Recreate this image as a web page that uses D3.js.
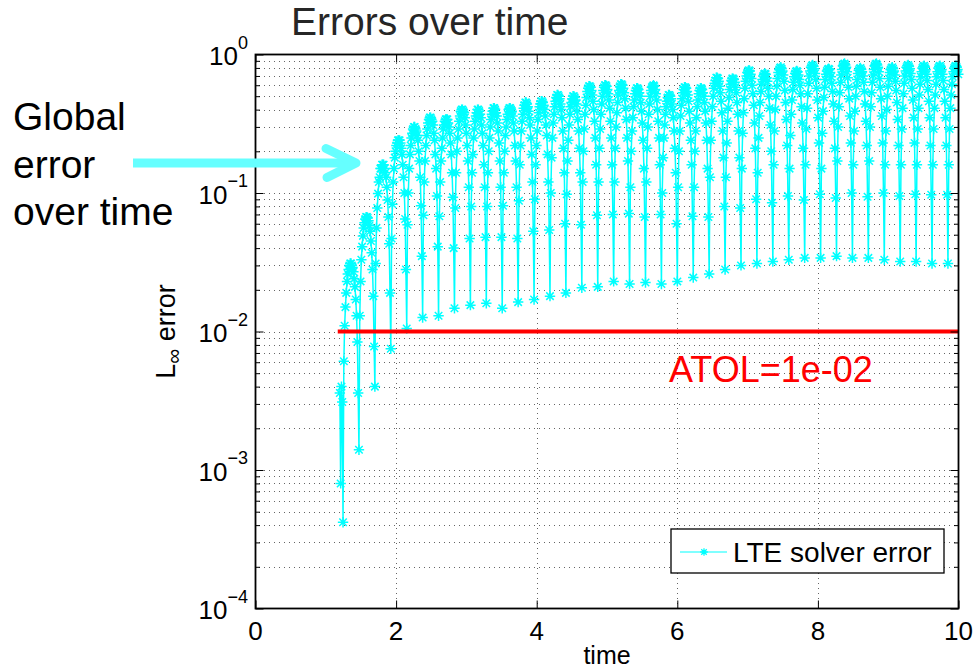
<!DOCTYPE html>
<html>
<head>
<meta charset="utf-8">
<script src="https://cdn.jsdelivr.net/npm/d3@7"></script>
<style>
  body { margin: 0; background: #fff; }
  text { font-family: "Liberation Sans", Arial, Helvetica, sans-serif; }
</style>
</head>
<body>
<svg id="chart" width="974" height="671"></svg>
<script>
// ---- data -------------------------------------------------------------
const xTicks = [0, 2, 4, 6, 8, 10];
const yTickExponents = [0, -1, -2, -3, -4];
const gridMultipliers = [2, 3, 4, 5, 6, 7, 8, 9];

// solver output: uniform time grid
const tStart = 1.2;
const tStep = 0.011322;

// first few steps before the first full oscillation
const leadIn = [0.0036, 0.0008, 0.0040, 0.0031];

// L-infinity error, one row per oscillation (trough first, crest mid-row)
const bumpValues = [
[.00042,.0061,.011,.015,.019,.023,.026,.028,.030,.031,.031,.030,.029,.027,.024,.021,.017,.013,.0084,.0036],
[.0014,.013,.023,.033,.041,.049,.056,.061,.065,.067,.067,.066,.063,.058,.053,.045,.037,.028,.018,.0078],
[.004,.031,.056,.078,.099,.12,.13,.15,.15,.16,.16,.16,.15,.14,.13,.11,.089,.067,.043,.019],
[.0075,.047,.083,.12,.15,.18,.20,.22,.23,.24,.24,.24,.23,.21,.19,.16,.13,.10,.065,.028],
[.0105,.059,.10,.15,.19,.22,.25,.27,.29,.30,.30,.29,.28,.26,.24,.20,.17,.13,.081,.035],
[.0126,.069,.12,.17,.22,.26,.29,.32,.34,.35,.35,.34,.33,.31,.27,.24,.19,.15,.095,.041],
[.013,.068,.12,.17,.21,.25,.29,.31,.33,.34,.34,.34,.32,.30,.27,.23,.19,.14,.093,.040],
[.0147,.078,.14,.20,.25,.29,.33,.36,.39,.40,.40,.39,.38,.35,.31,.27,.22,.17,.11,.047],
[.0155,.080,.14,.19,.25,.29,.33,.36,.38,.40,.40,.39,.37,.35,.31,.27,.22,.16,.11,.048],
[.016,.080,.14,.20,.25,.30,.34,.37,.39,.41,.41,.40,.38,.36,.32,.28,.23,.17,.11,.048],
[.0147,.081,.14,.20,.26,.30,.34,.37,.40,.41,.41,.40,.39,.36,.32,.28,.22,.17,.11,.047],
[.0163,.088,.16,.22,.28,.33,.37,.41,.43,.45,.45,.44,.42,.39,.35,.31,.25,.19,.12,.053],
[.017,.090,.16,.22,.28,.34,.38,.42,.44,.46,.46,.45,.43,.40,.36,.31,.26,.19,.12,.054],
[.018,.10,.18,.25,.32,.37,.42,.46,.49,.51,.51,.50,.48,.44,.40,.35,.28,.21,.14,.060],
[.019,.098,.17,.24,.31,.37,.42,.45,.48,.50,.50,.49,.47,.44,.39,.34,.28,.21,.14,.059],
[.0207,.12,.20,.29,.37,.43,.49,.54,.57,.59,.59,.58,.55,.51,.46,.40,.33,.25,.16,.069],
[.021,.12,.21,.29,.37,.44,.50,.55,.58,.60,.60,.59,.56,.52,.47,.41,.33,.25,.16,.070],
[.023,.12,.21,.30,.38,.45,.51,.55,.59,.61,.61,.60,.57,.53,.48,.41,.34,.25,.17,.071],
[.022,.11,.20,.28,.35,.42,.47,.52,.55,.57,.57,.56,.53,.50,.45,.39,.32,.24,.15,.067],
[.0226,.12,.21,.30,.37,.44,.50,.55,.58,.59,.60,.59,.56,.52,.47,.40,.33,.25,.16,.070],
[.022,.10,.18,.25,.31,.37,.42,.46,.49,.51,.51,.50,.48,.44,.40,.35,.28,.21,.14,.060],
[.023,.11,.20,.28,.36,.43,.48,.53,.56,.58,.58,.57,.54,.51,.46,.39,.32,.24,.16,.068],
[.0245,.11,.20,.28,.35,.42,.47,.52,.55,.57,.57,.56,.53,.50,.45,.39,.32,.24,.15,.067],
[.026,.13,.24,.33,.42,.50,.57,.62,.65,.68,.68,.67,.64,.59,.53,.46,.38,.28,.18,.080],
[.028,.13,.23,.33,.41,.49,.56,.61,.65,.67,.67,.66,.63,.58,.53,.45,.37,.28,.18,.078],
[.030,.15,.27,.38,.48,.57,.64,.70,.74,.76,.77,.76,.72,.67,.60,.52,.43,.32,.21,.090],
[.031,.14,.25,.36,.45,.54,.61,.66,.70,.72,.73,.72,.68,.64,.57,.50,.41,.31,.20,.085],
[.032,.16,.28,.40,.50,.59,.67,.74,.78,.80,.81,.79,.76,.71,.64,.55,.45,.34,.22,.095],
[.033,.15,.26,.37,.47,.56,.63,.69,.73,.75,.76,.75,.71,.66,.60,.52,.42,.32,.21,.089],
[.034,.16,.29,.41,.52,.62,.70,.76,.81,.83,.84,.82,.79,.73,.66,.57,.47,.35,.23,.098],
[.034,.15,.27,.39,.49,.58,.66,.72,.76,.78,.79,.78,.74,.69,.62,.54,.44,.33,.21,.092],
[.035,.17,.30,.42,.53,.63,.71,.78,.83,.85,.86,.84,.81,.75,.68,.58,.48,.36,.23,.10],
[.034,.16,.28,.39,.50,.59,.66,.73,.77,.79,.80,.78,.75,.70,.63,.54,.44,.33,.22,.094],
[.034,.17,.30,.42,.53,.63,.71,.78,.83,.85,.86,.84,.81,.75,.67,.58,.48,.36,.23,.10],
[.033,.16,.28,.40,.50,.59,.67,.74,.78,.80,.81,.79,.76,.71,.64,.55,.45,.34,.22,.095],
[.032,.16,.29,.41,.52,.62,.70,.76,.81,.83,.84,.82,.79,.73,.66,.57,.47,.35,.23,.098],
[.032,.16,.29,.41,.51,.61,.69,.75,.80,.82,.83,.81,.78,.72,.65,.56,.46,.35,.22,.097],
[.031,.16,.29,.41,.51,.61,.69,.75,.80,.82,.83,.81,.78,.72,.65,.56,.46,.35,.22,.097],
[.031,.16,.29,.41,.51,.61,.69,.75,.80,.82,.83,.81,.78,.72]
];

// absolute tolerance reference line
const atolValue = 1e-2;
const atolRange = [1.17, 10];

const titleText = "Errors over time";
const legendLabel = "LTE solver error";
const atolLabel = "ATOL=1e-02";
const noteLines = ["Global", "error", "over time"];

// ---- layout -----------------------------------------------------------
const plot = { left: 255.5, right: 958.5, top: 54.5, bottom: 608.5 };
const seriesColor = "#00ffff";
const arrowColor = "#66ffff";

const svg = d3.select("#chart");
const x = d3.scaleLinear().domain([0, 10]).range([plot.left, plot.right]);
const y = d3.scaleLog().domain([1e-4, 1]).range([plot.bottom, plot.top]);

const series = leadIn.concat(...bumpValues)
  .map((v, i) => ({ t: tStart + i * tStep, v }));

// ---- grid -------------------------------------------------------------
const majorY = yTickExponents.map(e => Math.pow(10, e));
const minorY = yTickExponents.slice(1)
  .flatMap(e => gridMultipliers.map(m => m * Math.pow(10, e)));

const grid = svg.append("g").attr("stroke", "#000").attr("stroke-opacity", 0.6)
  .attr("stroke-width", 1).attr("stroke-dasharray", "1,4").attr("fill", "none")
  .attr("shape-rendering", "crispEdges");
grid.selectAll("line.h").data(majorY.concat(minorY).filter(v => v < 1 && v > 1e-4))
  .join("line").attr("class", "h")
  .attr("x1", plot.left + 3).attr("x2", plot.right)
  .attr("y1", d => Math.round(y(d)) + 0.5).attr("y2", d => Math.round(y(d)) + 0.5);
grid.selectAll("line.v").data(xTicks.filter(d => d > 0 && d < 10))
  .join("line").attr("class", "v")
  .attr("y1", plot.top + 3).attr("y2", plot.bottom)
  .attr("x1", d => Math.round(x(d)) + 0.5).attr("x2", d => Math.round(x(d)) + 0.5);

// ---- series -----------------------------------------------------------
const line = d3.line().x(d => x(d.t)).y(d => y(d.v));
svg.append("path").datum(series)
  .attr("fill", "none").attr("stroke", seriesColor)
  .attr("stroke-width", 1.5).attr("stroke-linejoin", "round")
  .attr("d", line);

function starPath(r) {
  const d = r * 0.72;
  return `M${-r},0H${r}M0,${-r}V${r}M${-d},${-d}L${d},${d}M${-d},${d}L${d},${-d}`;
}
const star = starPath(5.2);
svg.append("g").attr("stroke", seriesColor).attr("stroke-width", 1.5).attr("fill", "none")
  .selectAll("path").data(series).join("path")
  .attr("transform", d => `translate(${x(d.t)},${y(d.v)})`)
  .attr("d", star);

// ---- tolerance line ---------------------------------------------------
svg.append("line")
  .attr("x1", x(atolRange[0])).attr("x2", x(atolRange[1]))
  .attr("y1", y(atolValue)).attr("y2", y(atolValue))
  .attr("stroke", "#ff0000").attr("stroke-width", 4);

svg.append("text").attr("x", 669).attr("y", 382)
  .attr("fill", "#ff0000").attr("font-size", 36).text(atolLabel);

// ---- axes frame and ticks ---------------------------------------------
const tickGroup = (axis, tx, ty) => {
  const g = svg.append("g").attr("transform", `translate(${tx},${ty})`).call(axis);
  g.select(".domain").remove();
  g.selectAll(".tick line").attr("stroke", "#000").attr("stroke-width", 1);
  g.selectAll(".tick text").remove();
  return g;
};
tickGroup(d3.axisLeft(y).tickValues(majorY).tickSize(-8).tickFormat(""), plot.left, 0);
tickGroup(d3.axisLeft(y).tickValues(minorY).tickSize(-4.5).tickFormat(""), plot.left, 0);
tickGroup(d3.axisRight(y).tickValues(majorY).tickSize(-8).tickFormat(""), plot.right, 0);
tickGroup(d3.axisRight(y).tickValues(minorY).tickSize(-4.5).tickFormat(""), plot.right, 0);
tickGroup(d3.axisBottom(x).tickValues(xTicks).tickSize(-8).tickFormat(""), 0, plot.bottom);
tickGroup(d3.axisTop(x).tickValues(xTicks).tickSize(-8).tickFormat(""), 0, plot.top);

svg.append("rect")
  .attr("x", plot.left).attr("y", plot.top)
  .attr("width", plot.right - plot.left).attr("height", plot.bottom - plot.top)
  .attr("fill", "none").attr("stroke", "#000").attr("stroke-width", 1.8);

// y tick labels as powers of ten
yTickExponents.forEach(e => {
  const t = svg.append("text")
    .attr("x", plot.left - 7.5).attr("y", y(Math.pow(10, e)) + 10.5)
    .attr("text-anchor", "end").attr("fill", "#000");
  t.append("tspan").attr("font-size", 26).text("10");
  t.append("tspan").attr("font-size", 18).attr("dy", -16.5)
    .text(e < 0 ? "\u2212" + (-e) : String(e));
});

// x tick labels
svg.append("g").selectAll("text").data(xTicks).join("text")
  .attr("x", d => x(d)).attr("y", 640)
  .attr("text-anchor", "middle").attr("font-size", 26).attr("fill", "#000")
  .text(d => d);

// axis titles
svg.append("text").attr("x", (plot.left + plot.right) / 2).attr("y", 664)
  .attr("text-anchor", "middle").attr("font-size", 25).text("time");

const yLabel = svg.append("text")
  .attr("transform", `translate(175,${(plot.top + plot.bottom) / 2}) rotate(-90)`)
  .attr("text-anchor", "middle").attr("font-size", 27).attr("fill", "#000");
yLabel.append("tspan").text("L");
yLabel.append("tspan").attr("font-size", 21).attr("dy", 6).text("\u221e");
yLabel.append("tspan").attr("dy", -6).text(" error");

// title
svg.append("text").attr("x", 291).attr("y", 35)
  .attr("font-size", 39).attr("fill", "#262626").text(titleText);

// ---- legend -----------------------------------------------------------
const legend = svg.append("g");
legend.append("rect").attr("x", 671).attr("y", 529).attr("width", 273).attr("height", 44)
  .attr("fill", "#fff").attr("stroke", "#000").attr("stroke-width", 1.3);
legend.append("line").attr("x1", 680).attr("x2", 727).attr("y1", 552).attr("y2", 552)
  .attr("stroke", seriesColor).attr("stroke-width", 1.2);
legend.append("path").attr("transform", "translate(704,552)").attr("d", starPath(3.8))
  .attr("stroke", seriesColor).attr("stroke-width", 1.3);
legend.append("text").attr("x", 733).attr("y", 562).attr("font-size", 28)
  .attr("fill", "#000").text(legendLabel);

// ---- annotation -------------------------------------------------------
svg.append("g").selectAll("text").data(noteLines).join("text")
  .attr("x", 13).attr("y", (d, i) => 130 + i * 47.5)
  .attr("font-size", 39).attr("fill", "#000").text(d => d);

svg.append("line").attr("x1", 133).attr("x2", 352).attr("y1", 163).attr("y2", 163)
  .attr("stroke", arrowColor).attr("stroke-width", 9);
svg.append("path").attr("d", "M326,148.5L356,163L327,177.5")
  .attr("fill", "none").attr("stroke", arrowColor).attr("stroke-width", 9)
  .attr("stroke-linecap", "round").attr("stroke-linejoin", "round");
</script>
</body>
</html>
